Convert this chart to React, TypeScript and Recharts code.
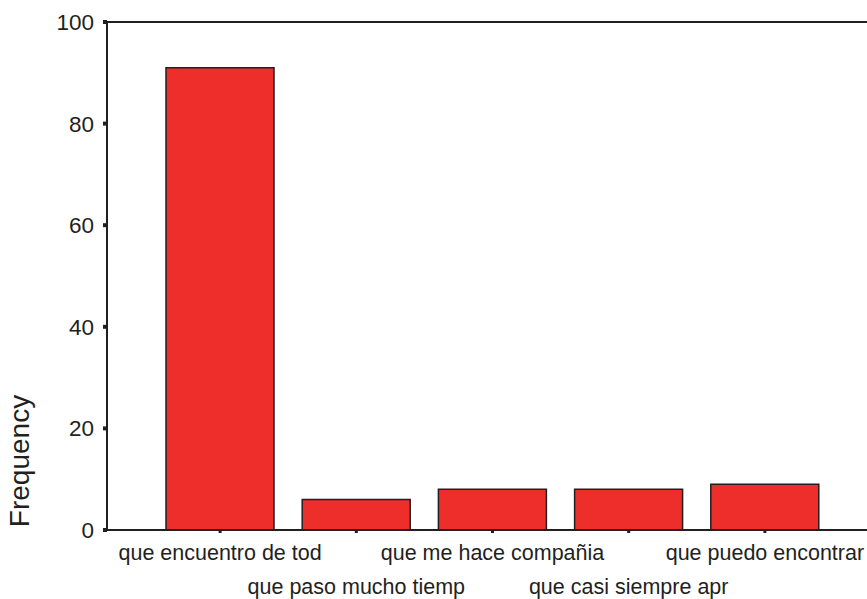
import { BarChart, Bar, XAxis, YAxis, ReferenceLine } from 'recharts'

const categories = [
  'que encuentro de tod',
  'que paso mucho tiemp',
  'que me hace compañia',
  'que casi siempre apr',
  'que puedo encontrar',
]
const frequency = [91, 6, 8, 8, 9]
const yTicks = [0, 20, 40, 60, 80, 100]

const data = categories.map((name, i) => ({ name, value: frequency[i] }))

const FONT = 'Liberation Sans, Arial, sans-serif'
const INK = '#231f20'

function CategoryTick(props: any) {
  const { x, y, payload, index } = props
  // SPSS staggers long labels on two rows
  const second = index % 2 === 1
  return (
    <text
      x={x}
      y={y + (second ? 59 : 25)}
      textAnchor="middle"
      fill={INK}
      fontFamily={FONT}
      fontSize={21.5}
    >
      {payload.value}
    </text>
  )
}

function FreqLabel(props: any) {
  const { viewBox } = props
  const cy = viewBox ? viewBox.y + viewBox.height - 69 : 461
  return (
    <text
      x={22}
      y={cy}
      transform={`rotate(-90 22 ${cy})`}
      textAnchor="middle"
      dominantBaseline="middle"
      fill={INK}
      fontFamily={FONT}
      fontSize={28}
    >
      Frequency
    </text>
  )
}

export default function App() {
  return (
    <div style={{ position: 'absolute', left: 0, top: 0, width: 867, height: 599, background: '#fff' }}>
      <BarChart
        width={867}
        height={599}
        data={data}
        margin={{ top: 22, right: 0, bottom: 0, left: 0 }}
        barSize={108}
      >
        <XAxis
          dataKey="name"
          interval={0}
          height={69}
          padding={{ left: 45, right: 34 }}
          axisLine={{ stroke: INK, strokeWidth: 2 }}
          tickLine={{ stroke: INK, strokeWidth: 3 }}
          tickSize={3}
          tick={<CategoryTick />}
        />
        <YAxis
          width={107}
          domain={[0, 100]}
          ticks={yTicks}
          interval={0}
          axisLine={{ stroke: INK, strokeWidth: 2 }}
          tickLine={{ stroke: INK, strokeWidth: 4 }}
          tickSize={4}
          tickMargin={9}
          tick={{ fill: INK, fontSize: 22.5, fontFamily: FONT }}
          label={<FreqLabel />}
        />
        <ReferenceLine y={100} stroke={INK} strokeWidth={2} />
        <Bar dataKey="value" fill="#ee2e2b" stroke={INK} strokeWidth={1.5} isAnimationActive={false} />
      </BarChart>
    </div>
  )
}
